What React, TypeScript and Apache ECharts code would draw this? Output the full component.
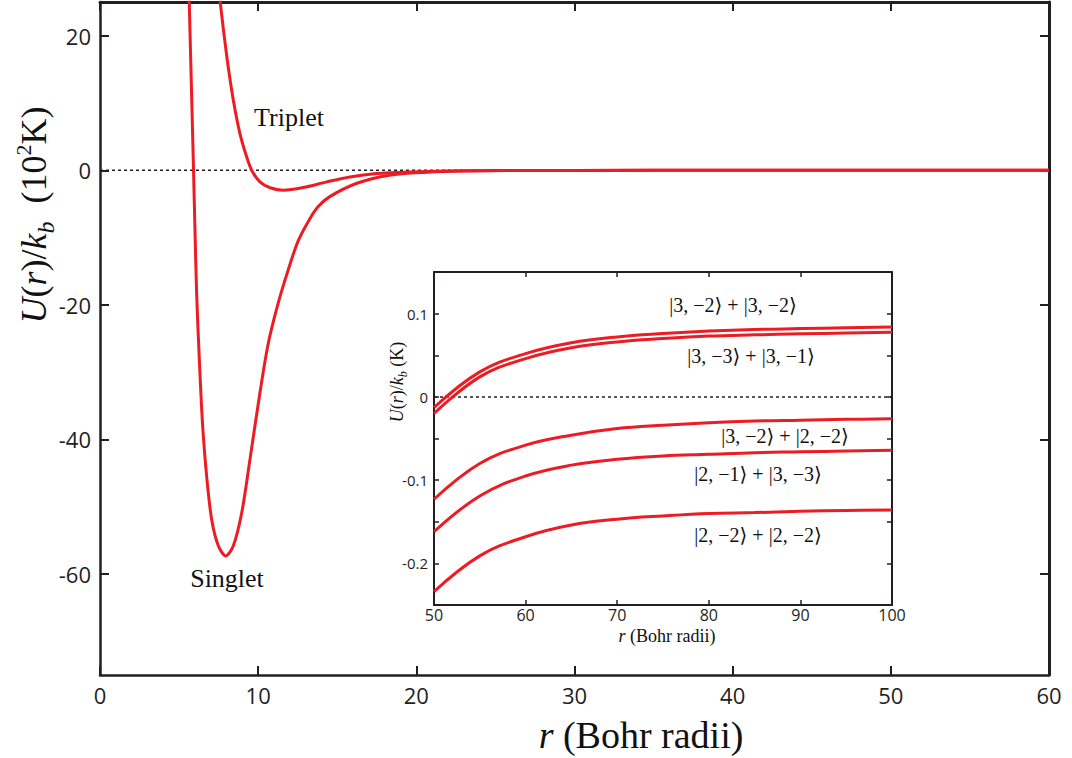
import { useEffect, useRef } from 'react';
import * as echarts from 'echarts';

// Main panel: U(r)/k_b in units of 10^2 K
const singlet: [number, number][] = [
  [5.64, 25.2], [5.9, 1.3], [6.0, -8.4], [6.11, -18.3], [6.28, -28.1], [6.49, -38.0],
  [6.74, -45.4], [7.06, -51.9], [7.48, -55.8], [7.95, -57.3], [8.43, -55.8], [8.96, -50.9],
  [9.48, -43.0], [10.11, -33.1], [10.64, -25.7], [11.27, -19.7], [11.9, -14.8], [12.53, -10.5],
  [13.27, -7.2], [13.8, -5.4], [14.5, -3.96], [16.2, -1.97], [18.3, -0.74], [20.7, -0.3], [23, -0.12],
  [26, -0.05], [30, -0.02], [40, 0], [60, 0],
];
const triplet: [number, number][] = [
  [7.59, 25.2], [7.84, 20.2], [8.11, 15.3], [8.43, 10.4], [8.85, 5.4], [9.27, 2.0], [9.59, 0],
  [10.11, -1.73], [10.75, -2.6], [11.59, -2.96], [12.85, -2.57], [14.33, -1.73], [15.8, -0.99],
  [17.5, -0.49], [19.6, -0.25], [22, -0.12], [25, -0.05], [30, -0.02], [40, 0], [60, 0],
];
const mainXTicks = [0, 10, 20, 30, 40, 50, 60];
const mainYTicks = [-60, -40, -20, 0, 20];

// Inset: U(r)/k_b in K
const insetR = [50, 55, 60, 65, 70, 75, 80, 85, 90, 95, 100];
const curve3m2_3m2 = [-0.013, 0.030, 0.052, 0.065, 0.072, 0.076, 0.079, 0.081, 0.082, 0.083, 0.084];
const curve3m3_3m1 = [-0.020, 0.024, 0.046, 0.059, 0.066, 0.070, 0.073, 0.0745, 0.0757, 0.0767, 0.0776];
const curve3m2_2m2 = [-0.123, -0.080, -0.058, -0.046, -0.038, -0.034, -0.031, -0.029, -0.028, -0.027, -0.0264];
const curve2m1_3m3 = [-0.162, -0.119, -0.095, -0.082, -0.075, -0.071, -0.069, -0.067, -0.066, -0.065, -0.064];
const curve2m2_2m2 = [-0.234, -0.191, -0.168, -0.154, -0.147, -0.143, -0.140, -0.139, -0.1375, -0.1365, -0.136];
const insetYLabels = [-0.2, -0.1, 0, 0.1];

const RED = '#ed1c24';
const INK = '#231f20';
const SANS = "'Open Sans', 'Noto Sans', sans-serif";
const SERIF = "'Liberation Serif', 'DejaVu Serif', serif";

export default function App() {
  const ref = useRef<HTMLDivElement>(null);
  useEffect(() => {
    if (!ref.current) return;
    const chart = echarts.init(ref.current, undefined, { renderer: 'svg' });
    const pair = (ys: number[]) => insetR.map((r, i) => [r, ys[i]]);
    const redLine = (w: number) => ({ color: RED, width: w });
    const fmt = (v: number) => {
      const r = Math.round(v * 100) / 100;
      return r === 0 ? '0' : String(r);
    };
    const mainLine = (w: number) => ({ show: true, onZero: false, lineStyle: { color: INK, width: w } });
    const mainTick = (vals: number[]) => ({ show: true, inside: true, length: 9, lineStyle: { color: INK, width: 2 }, customValues: vals });
    const insetLine = { show: true, onZero: false, lineStyle: { color: INK, width: 2 } };
    const insetTick = { show: true, inside: true, length: 5, lineStyle: { color: INK, width: 1.5 } };
    chart.setOption({
      animation: false,
      backgroundColor: '#fff',
      grid: [
        { left: 100, top: 2, right: 23, bottom: 83, show: false },
        { left: 434, top: 272, width: 458, height: 333, show: true, backgroundColor: '#fff', borderWidth: 0, z: 5 },
      ],
      xAxis: [
        {
          gridIndex: 0, type: 'value', min: 0, max: 60, interval: 10, position: 'bottom',
          axisLine: mainLine(2.5), axisTick: mainTick(mainXTicks),
          axisLabel: { color: INK, fontSize: 22, fontFamily: SANS, margin: 9, customValues: mainXTicks },
          splitLine: { show: false },
        },
        {
          gridIndex: 0, type: 'value', min: 0, max: 60, interval: 10, position: 'top',
          axisLine: mainLine(3), axisTick: mainTick(mainXTicks), axisLabel: { show: false }, splitLine: { show: false },
        },
        {
          gridIndex: 1, type: 'value', min: 50, max: 100, interval: 10, position: 'bottom',
          axisLine: insetLine, axisTick: insetTick,
          axisLabel: { color: INK, fontSize: 16, fontFamily: SANS, margin: 2 },
          splitLine: { show: false }, z: 6,
        },
        {
          gridIndex: 1, type: 'value', min: 50, max: 100, interval: 10, position: 'top',
          axisLine: insetLine, axisTick: insetTick, axisLabel: { show: false }, splitLine: { show: false }, z: 6,
        },
      ],
      yAxis: [
        {
          gridIndex: 0, type: 'value', min: -75, max: 25, position: 'left',
          axisLine: mainLine(2.5), axisTick: mainTick(mainYTicks),
          axisLabel: { color: INK, fontSize: 22, fontFamily: SANS, margin: 9, customValues: mainYTicks },
          splitLine: { show: false },
        },
        {
          gridIndex: 0, type: 'value', min: -75, max: 25, position: 'right',
          axisLine: mainLine(3), axisTick: mainTick(mainYTicks), axisLabel: { show: false }, splitLine: { show: false },
        },
        {
          gridIndex: 1, type: 'value', min: -0.25, max: 0.15, interval: 0.05, position: 'left',
          axisLine: insetLine, axisTick: insetTick,
          axisLabel: { color: INK, fontSize: 15, fontFamily: SANS, margin: 6, customValues: insetYLabels, formatter: fmt },
          splitLine: { show: false }, z: 6,
        },
        {
          gridIndex: 1, type: 'value', min: -0.25, max: 0.15, interval: 0.05, position: 'right',
          axisLine: insetLine, axisTick: insetTick, axisLabel: { show: false }, splitLine: { show: false }, z: 6,
        },
      ],
      series: [
        {
          type: 'line', xAxisIndex: 0, yAxisIndex: 0, data: [[0, 0], [60, 0]], symbol: 'none',
          lineStyle: { color: INK, width: 1.5, type: [3, 3] }, z: 1,
        },
        { name: 'Singlet', type: 'line', xAxisIndex: 0, yAxisIndex: 0, data: singlet, symbol: 'none', smooth: 0.3, lineStyle: redLine(3), clip: true, z: 2 },
        { name: 'Triplet', type: 'line', xAxisIndex: 0, yAxisIndex: 0, data: triplet, symbol: 'none', smooth: 0.3, lineStyle: redLine(3), clip: true, z: 2 },
        {
          type: 'line', xAxisIndex: 2, yAxisIndex: 2, data: [[50, 0], [100, 0]], symbol: 'none',
          lineStyle: { color: INK, width: 1.5, type: [3, 3] }, z: 6,
        },
        ...[curve3m2_3m2, curve3m3_3m1, curve3m2_2m2, curve2m1_3m3, curve2m2_2m2].map((c) => ({
          type: 'line', xAxisIndex: 2, yAxisIndex: 2, data: pair(c), symbol: 'none', smooth: 0.4,
          lineStyle: redLine(3), z: 7,
        })),
      ],
      graphic: [
        {
          type: 'text', x: 641, y: 735, z: 20,
          style: {
            text: '{i|r} (Bohr radii)', font: `38px ${SERIF}`, fill: '#111', align: 'center', verticalAlign: 'middle',
            rich: { i: { fontStyle: 'italic', fontSize: 38, fontFamily: SERIF } },
          },
        },
        {
          type: 'text', x: 34, y: 215, rotation: Math.PI / 2, z: 20,
          style: {
            text: '{i|U}({i|r})/{i|k}{sub|b}  (10{sup|2}K)',
            font: `36px ${SERIF}`, fill: '#111', align: 'center', verticalAlign: 'middle',
            rich: {
              i: { fontStyle: 'italic', fontSize: 36, fontFamily: SERIF },
              sub: { fontStyle: 'italic', fontSize: 24, fontFamily: SERIF, verticalAlign: 'bottom', padding: [0, 0, -6, 0] },
              sup: { fontSize: 22, fontFamily: SERIF, verticalAlign: 'top', padding: [-4, 0, 0, 0] },
            },
          },
        },
        {
          type: 'text', x: 289, y: 117, z: 20,
          style: { text: 'Triplet', font: `26px ${SERIF}`, fill: '#111', align: 'center', verticalAlign: 'middle' },
        },
        {
          type: 'text', x: 227, y: 578, z: 20,
          style: { text: 'Singlet', font: `26px ${SERIF}`, fill: '#111', align: 'center', verticalAlign: 'middle' },
        },
        {
          type: 'text', x: 667, y: 636, z: 20,
          style: {
            text: '{i|r} (Bohr radii)', font: `18px ${SERIF}`, fill: '#111', align: 'center', verticalAlign: 'middle',
            rich: { i: { fontStyle: 'italic', fontSize: 18, fontFamily: SERIF } },
          },
        },
        {
          type: 'text', x: 397, y: 382, rotation: Math.PI / 2, z: 20,
          style: {
            text: '{i|U}({i|r})/{i|k}{sub|b} (K)', font: `18px ${SERIF}`, fill: '#111', align: 'center', verticalAlign: 'middle',
            rich: {
              i: { fontStyle: 'italic', fontSize: 18, fontFamily: SERIF },
              sub: { fontStyle: 'italic', fontSize: 12, fontFamily: SERIF, verticalAlign: 'bottom', padding: [0, 0, -3, 0] },
            },
          },
        },
        ...[
          ['|3, \u22122\u27E9 + |3, \u22122\u27E9', 733, 305],
          ['|3, \u22123\u27E9 + |3, \u22121\u27E9', 751, 356],
          ['|3, \u22122\u27E9 + |2, \u22122\u27E9', 785, 436],
          ['|2, \u22121\u27E9 + |3, \u22123\u27E9', 758, 474],
          ['|2, \u22122\u27E9 + |2, \u22122\u27E9', 758, 535],
        ].map(([t, x, y]) => ({
          type: 'text', x, y, z: 20,
          style: { text: t, font: `20px ${SERIF}`, fill: '#111', align: 'center', verticalAlign: 'middle' },
        })),
      ],
    });
    return () => chart.dispose();
  }, []);
  return <div ref={ref} style={{ width: 1072, height: 758, position: 'absolute', left: 0, top: 0 }} />;
}
